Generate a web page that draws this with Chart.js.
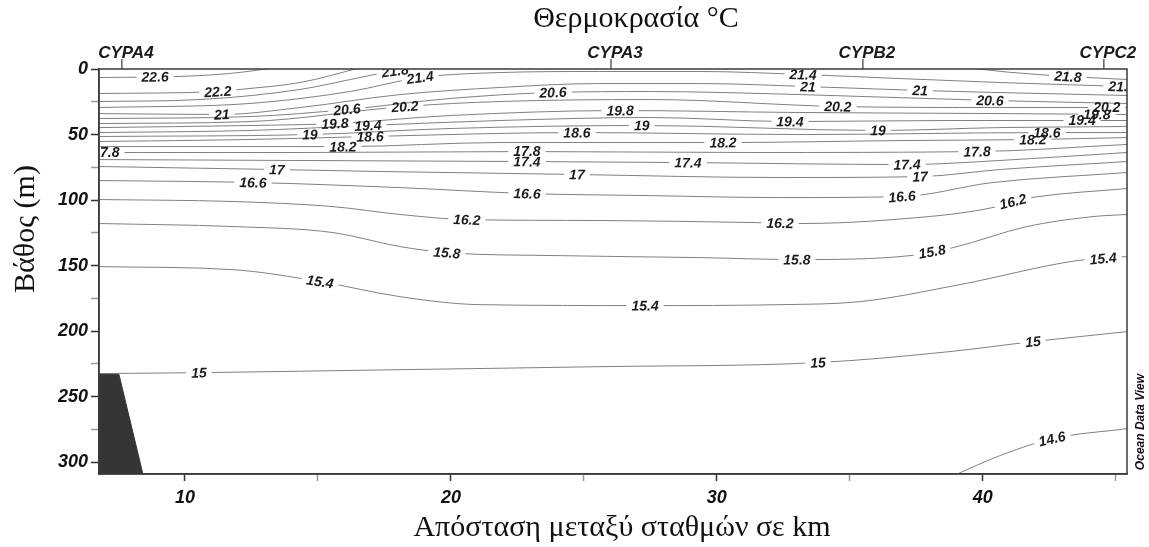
<!DOCTYPE html>
<html>
<head>
<meta charset="utf-8">
<script src="https://cdn.jsdelivr.net/npm/chart.js@4.4.1/dist/chart.umd.min.js"></script>
<style>
  html, body { margin: 0; padding: 0; background: #fff; }
</style>
</head>
<body>
<canvas id="chart" width="1149" height="547"></canvas>
<script>
// axis ranges: distance (km) and depth (m)
const kmMin = 6.77, kmMax = 45.42;
const depthMin = 0, depthMax = 309;
const xTickLabels = [10, 20, 30, 40];
const yTickLabels = [0, 50, 100, 150, 200, 250, 300];

// stations along the top
const stationNames = ['CYPA4', 'CYPA3', 'CYPB2', 'CYPC2'];
const stationKm = [7.63, 26.02, 35.49, 44.55];

// isotherms: [km, depth m]
const c146 = [[38.7, 312], [40.64, 295], [42.6, 282.1], [45.42, 274.4]];
const c150 = [[6.77, 232.4], [10.53, 231.7], [18.09, 229.4], [25.68, 227.1], [33.8, 224], [38.76, 215.6], [41.88, 208], [45.42, 200.4]];
const c154 = [[6.77, 150.8], [11.81, 153.1], [15.08, 162.2], [18.09, 173.7], [21.1, 179.8], [27.3, 180.5], [32.37, 179.8], [35.38, 177.5], [39.14, 164.5], [43.54, 146.2], [45.42, 143.1]];
const c158 = [[6.77, 117.9], [11.81, 120.2], [15.57, 124.8], [18.09, 135.5], [19.85, 140.1], [24.1, 142.4], [29.36, 143.9], [33.01, 145.4], [37.26, 142.4], [38.88, 136.3], [41.66, 120.2], [44.14, 112.6], [45.42, 111]];
const c162 = [[6.77, 99.6], [11.81, 101.1], [15.57, 105], [18.09, 111], [20.6, 114.9], [25.6, 115.6], [31.5, 117.2], [33.12, 117.9], [36.62, 114.9], [40.38, 105.7], [41.13, 101.1], [42.03, 97.5], [45.42, 91.2]];
const c166 = [[6.77, 85.1], [12.56, 86.6], [18.09, 90.5], [22.86, 95], [27.48, 96.6], [32.37, 98.1], [36.96, 97.3], [40.38, 86.6], [45.42, 79]];
const c170 = [[6.77, 74.4], [13.46, 76.7], [17.33, 78.2], [24.74, 80.5], [32.37, 82.8], [37.64, 82.1], [40.64, 76.7], [45.42, 70.6]];
const c174 = [[6.77, 69.1], [14.33, 69.8], [22.86, 70.6], [28.91, 71.4], [37.15, 72.9], [40.64, 69.8], [45.42, 63.7]];
const c178 = [[6.77, 63.7], [14.33, 63.7], [22.86, 63], [31.24, 63.7], [39.78, 63], [45.42, 57.6]];
const c182 = [[6.77, 59.2], [15.94, 59.2], [21.85, 56.1], [30.23, 56.1], [36.88, 54.6], [41.88, 53.8], [45.42, 52.3]];
const c186 = [[6.77, 55.3], [12.45, 53.8], [16.96, 51.5], [24.74, 48.5], [33.12, 50], [42.41, 48.5], [45.42, 48.5]];
const c190 = [[6.77, 51.5], [14.7, 50], [19.97, 45.4], [27.18, 43.1], [36.06, 46.9], [40.64, 44.7], [45.42, 43.9]];
const c194 = [[6.77, 48.5], [12.45, 46.9], [16.88, 43.1], [21.85, 39.3], [27.48, 37], [32.75, 40.1], [38.76, 39.3], [43.73, 39.3], [45.42, 39.3]];
const c198 = [[6.77, 44.7], [12.45, 43.1], [15.64, 41.6], [19.97, 35.5], [26.36, 31.7], [33.12, 33.2], [40.64, 34], [45.42, 34.7]];
const c202 = [[6.77, 41.6], [12.45, 40.1], [18.27, 28.6], [21.85, 24.8], [27.48, 23.3], [34.55, 28.6], [40.64, 29.4], [45.42, 29.4]];
const c206 = [[6.77, 37.8], [12.45, 36.3], [16.09, 30.9], [19.97, 22.5], [23.84, 17.9], [27.48, 17.2], [33.12, 19.5], [40.27, 24], [45.42, 26.3]];
const c210 = [[6.77, 34], [11.39, 34.7], [14.33, 29.4], [18.09, 19.5], [21.85, 14.1], [25.6, 11.1], [29.36, 11.1], [33.42, 13.4], [37.64, 16.4], [40.64, 18], [45.42, 20.2]];
const c214 = [[6.77, 29.4], [12.45, 26.3], [16.2, 17.2], [18.84, 6.5], [21.85, 2.7], [25.6, 1.9], [29.36, 1.9], [33.24, 4.2], [36.88, 7.3], [40.64, 10.3], [45.42, 13.4]];
const c218a = [[6.77, 24.8], [10.57, 23.3], [14.33, 15.6], [16.58, 6.5], [17.71, 1.9], [19.2, -1.5]];
const c218b = [[39.2, -1.5], [41, 2.5], [43.2, 5.7], [45.42, 8]];
const c222 = [[6.77, 18.7], [11.24, 17.2], [12.07, 15.6], [14.33, 10.3], [16.7, -1.5]];
const c226 = [[6.77, 6.5], [9.74, 5.7], [11.69, 3.4], [13.6, -1.5]];

const contours = [
  [14.6, c146], [15, c150], [15.4, c154], [15.8, c158], [16.2, c162], [16.6, c166],
  [17, c170], [17.4, c174], [17.8, c178], [18.2, c182], [18.6, c186], [19, c190],
  [19.4, c194], [19.8, c198], [20.2, c202], [20.6, c206], [21, c210], [21.4, c214],
  [21.8, c218a], [21.8, c218b], [22.2, c222], [22.6, c226]
];

// contour labels: level and km position along the line
const labelLevel = [22.6, 22.2, 21.8, 21.8, 21.4, 21.4, 21.4, 21, 21, 21,
  20.6, 20.6, 20.6, 20.2, 20.2, 20.2, 19.8, 19.8, 19.8, 19.4, 19.4, 19.4,
  19, 19, 19, 18.6, 18.6, 18.6, 18.2, 18.2, 18.2, 17.8, 17.8, 17.8,
  17.4, 17.4, 17.4, 17, 17, 17, 16.6, 16.6, 16.6, 16.2, 16.2, 16.2,
  15.8, 15.8, 15.8, 15.4, 15.4, 15.4, 15, 15, 15, 14.6];
const labelKm = [8.88, 11.24, 17.9, 43.2, 18.84, 33.24, 45.23, 11.39, 33.42, 37.64,
  16.09, 23.84, 40.27, 18.27, 34.55, 44.66, 15.64, 26.36, 44.29, 16.88, 32.75, 43.73,
  14.7, 27.18, 36.06, 16.96, 24.74, 42.41, 15.94, 30.23, 41.88, 7.03, 22.86, 39.78,
  22.86, 28.91, 37.15, 13.46, 24.74, 37.64, 12.56, 22.86, 36.96, 20.6, 32.37, 41.13,
  19.85, 33.01, 38.09, 15.08, 27.3, 44.52, 10.53, 33.8, 41.88, 42.6];

// sea floor at the western end
const bottomKm = [6.77, 7.52, 8.42];
const bottomDepth = [233, 233, 309];

const labelFont = 'italic bold 14px "Liberation Sans", Arial, sans-serif';

function depthAt(pts, km) {
  if (km <= pts[0][0]) return pts[0][1];
  for (let i = 1; i < pts.length; i++) {
    if (km <= pts[i][0]) {
      const t = (km - pts[i - 1][0]) / (pts[i][0] - pts[i - 1][0]);
      return pts[i - 1][1] + t * (pts[i][1] - pts[i - 1][1]);
    }
  }
  return pts[pts.length - 1][1];
}

function lineFor(level, km) {
  const list = contours.filter(c => c[0] === level);
  const hit = list.find(c => km >= c[1][0][0] && km <= c[1][c[1].length - 1][0]);
  return (hit || list[0])[1];
}

function labelGeom(chart, level, km) {
  const xs = chart.scales.x, ys = chart.scales.y;
  const pts = lineFor(level, km);
  const cx = xs.getPixelForValue(km), cy = ys.getPixelForValue(depthAt(pts, km));
  const x1 = xs.getPixelForValue(km - 0.5), x2 = xs.getPixelForValue(km + 0.5);
  const y1 = ys.getPixelForValue(depthAt(pts, km - 0.5)), y2 = ys.getPixelForValue(depthAt(pts, km + 0.5));
  return { cx, cy, ang: Math.atan2(y2 - y1, x2 - x1) };
}

// cuts a gap in each isotherm where its label sits, then writes the labels
const contourLabels = {
  id: 'contourLabels',
  beforeDatasetDraw(chart, args) {
    const ds = chart.data.datasets[args.index];
    if (ds.level === undefined) return;
    const ctx = chart.ctx;
    ctx.save();
    ctx.font = labelFont;
    ctx.beginPath();
    ctx.rect(0, 0, chart.width, chart.height);
    labelLevel.forEach((lvl, i) => {
      if (lvl !== ds.level) return;
      const pts = ds.pts;
      if (labelKm[i] < pts[0][0] || labelKm[i] > pts[pts.length - 1][0]) return;
      const g = labelGeom(chart, lvl, labelKm[i]);
      const hw = ctx.measureText(String(lvl)).width / 2 + 5, hh = 5;
      const c = Math.cos(g.ang), s = Math.sin(g.ang);
      const corners = [[-hw, -hh], [hw, -hh], [hw, hh], [-hw, hh]]
        .map(([u, v]) => [g.cx + u * c - v * s, g.cy + u * s + v * c]);
      ctx.moveTo(corners[0][0], corners[0][1]);
      for (let k = 1; k < 4; k++) ctx.lineTo(corners[k][0], corners[k][1]);
      ctx.closePath();
    });
    ctx.clip('evenodd');
  },
  afterDatasetDraw(chart, args) {
    if (chart.data.datasets[args.index].level === undefined) return;
    chart.ctx.restore();
  },
  afterDatasetsDraw(chart) {
    const ctx = chart.ctx, a = chart.chartArea;
    ctx.save();
    ctx.beginPath();
    ctx.rect(a.left, a.top, a.right - a.left, a.bottom - a.top);
    ctx.clip();
    ctx.font = labelFont;
    ctx.fillStyle = '#1c1c1c';
    ctx.textAlign = 'center';
    ctx.textBaseline = 'middle';
    labelLevel.forEach((lvl, i) => {
      const g = labelGeom(chart, lvl, labelKm[i]);
      ctx.save();
      ctx.translate(g.cx, g.cy);
      ctx.rotate(g.ang);
      ctx.fillText(String(lvl), 0, 1);
      ctx.restore();
    });
    ctx.restore();
  },
  afterDraw(chart) {
    const ctx = chart.ctx, a = chart.chartArea, xs = chart.scales.x;
    ctx.save();
    // frame
    ctx.strokeStyle = '#3a3a3a';
    ctx.lineWidth = 1.5;
    ctx.strokeRect(a.left, a.top, a.right - a.left, a.bottom - a.top);
    // stations
    ctx.font = 'italic bold 17px "Liberation Sans", Arial, sans-serif';
    ctx.fillStyle = '#1a1a1a';
    ctx.textAlign = 'center';
    ctx.textBaseline = 'alphabetic';
    ctx.lineWidth = 1.2;
    stationNames.forEach((name, i) => {
      const x = xs.getPixelForValue(stationKm[i]);
      ctx.beginPath();
      ctx.moveTo(x, a.top);
      ctx.lineTo(x, a.top - 10);
      ctx.stroke();
      ctx.fillText(name, x + 4, a.top - 11);
    });
    // titles
    ctx.font = '30px "Liberation Serif", "Times New Roman", serif';
    ctx.fillStyle = '#111';
    ctx.textBaseline = 'middle';
    ctx.fillText('Θερμοκρασία °C', 636, 19);
    ctx.fillText('Απόσταση μεταξύ σταθμών σε km', 622, 528);
    ctx.save();
    ctx.translate(26, 229);
    ctx.rotate(-Math.PI / 2);
    ctx.fillText('Βάθος (m)', 0, 0);
    ctx.restore();
    // software credit
    ctx.font = 'italic bold 12px "Liberation Sans", Arial, sans-serif';
    ctx.save();
    ctx.translate(1141, 422);
    ctx.rotate(-Math.PI / 2);
    ctx.fillText('Ocean Data View', 0, 0);
    ctx.restore();
    ctx.restore();
  }
};

const datasets = [{
  data: bottomKm.map((k, i) => ({ x: k, y: bottomDepth[i] })),
  borderColor: '#353535',
  backgroundColor: '#353535',
  borderWidth: 1,
  pointRadius: 0,
  tension: 0,
  fill: { value: depthMax }
}].concat(contours.map(([lvl, pts]) => ({
  level: lvl,
  pts: pts,
  data: pts.map(p => ({ x: p[0], y: p[1] })),
  borderColor: '#808080',
  borderWidth: 1,
  pointRadius: 0,
  fill: false,
  cubicInterpolationMode: 'monotone'
})));

const tickFont = { family: '"Liberation Sans", Arial, sans-serif', size: 18, style: 'italic', weight: 'bold' };

new Chart(document.getElementById('chart'), {
  type: 'line',
  data: { datasets },
  options: {
    responsive: false,
    animation: false,
    devicePixelRatio: 1,
    layout: { padding: { left: 0, top: 69, right: 22, bottom: 0 } },
    plugins: { legend: { display: false }, tooltip: { enabled: false } },
    scales: {
      x: {
        type: 'linear', min: kmMin, max: kmMax,
        afterFit(s) { s.height = 73; },
        ticks: {
          stepSize: 5, includeBounds: false, autoSkip: false, maxRotation: 0,
          padding: 6, color: '#111', font: tickFont,
          callback: v => xTickLabels.includes(v) ? String(v) : ''
        },
        grid: {
          drawOnChartArea: false, drawTicks: true, tickLength: 7, tickWidth: 1.5,
          tickColor: c => (c.tick && xTickLabels.includes(c.tick.value)) ? '#333' : '#999'
        },
        border: { display: true, color: '#3a3a3a', width: 1.5 }
      },
      y: {
        type: 'linear', reverse: true, min: depthMin, max: depthMax,
        afterFit(s) { s.width = 99; },
        ticks: {
          stepSize: 25, includeBounds: false, autoSkip: false,
          padding: 3, color: '#111', font: tickFont,
          callback: v => yTickLabels.includes(v) ? String(v) : ''
        },
        grid: {
          drawOnChartArea: false, drawTicks: true, tickLength: 8, tickWidth: 1.5,
          tickColor: c => (c.tick && yTickLabels.includes(c.tick.value)) ? '#333' : '#999'
        },
        border: { display: true, color: '#3a3a3a', width: 1.5 }
      }
    }
  },
  plugins: [contourLabels]
});
</script>
</body>
</html>
